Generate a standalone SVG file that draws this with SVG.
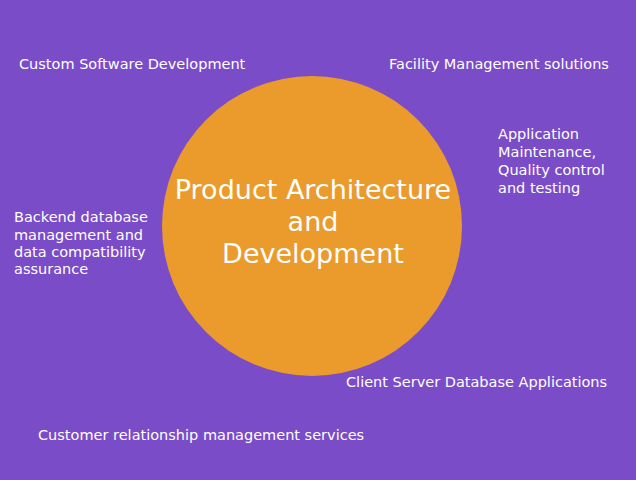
<svg xmlns="http://www.w3.org/2000/svg" width="636" height="480" viewBox="0 0 636 480">
<style>
.t{font-family:"DejaVu Sans","Liberation Sans",sans-serif;fill:#fff;font-size:14.5px}
.c{font-family:"DejaVu Sans","Liberation Sans",sans-serif;fill:#fff;font-size:27px;text-anchor:middle}
</style>
<rect width="636" height="480" fill="#7a4cc8"/>
<g id="center">
<circle cx="312" cy="226" r="150" fill="#ea9b2b"/>
<text class="c" x="313" y="199">Product Architecture</text>
<text class="c" x="313" y="231">and</text>
<text class="c" x="313" y="263">Development</text>
</g>
<g id="n1"><text class="t" x="19" y="69">Custom Software Development</text></g>
<g id="n2"><text class="t" x="389" y="69">Facility Management solutions</text></g>
<g id="n3"><text class="t" x="498" y="139">Application</text><text class="t" x="498" y="157">Maintenance,</text><text class="t" x="498" y="175">Quality control</text><text class="t" x="498" y="193">and testing</text></g>
<g id="n4"><text class="t" x="14" y="222">Backend database</text><text class="t" x="14" y="240">management and</text><text class="t" x="14" y="257">data compatibility</text><text class="t" x="14" y="274">assurance</text></g>
<g id="n5"><text class="t" x="346" y="387">Client Server Database Applications</text></g>
<g id="n6"><text class="t" x="38" y="440">Customer relationship management services</text></g>
<g id="connectors"/>
</svg>
